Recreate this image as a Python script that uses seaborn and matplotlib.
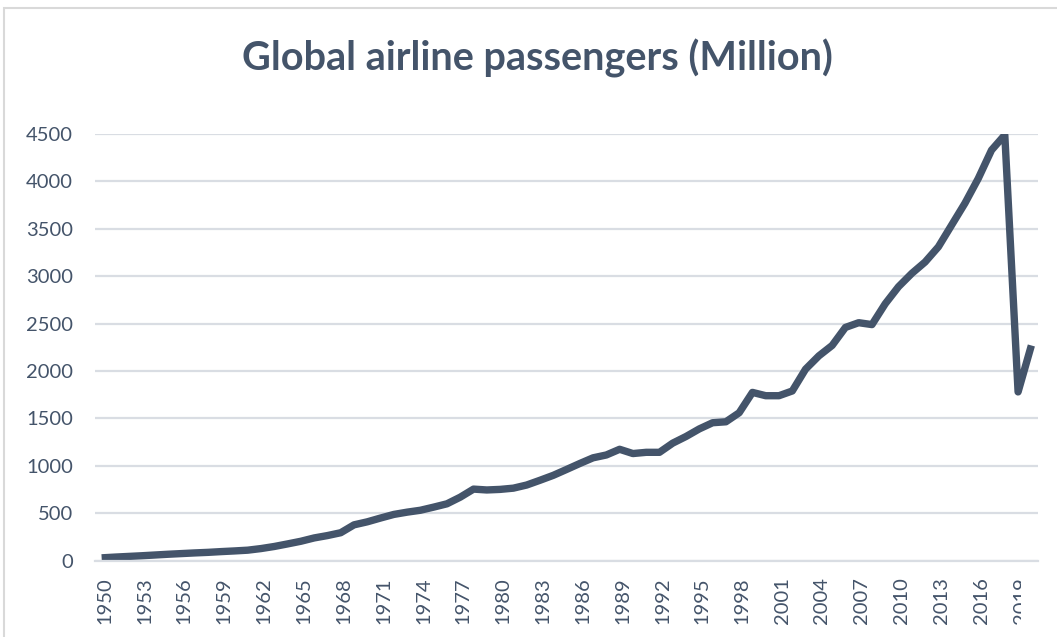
import matplotlib
matplotlib.use("Agg")
import matplotlib.pyplot as plt
from matplotlib.patches import FancyBboxPatch
from matplotlib.transforms import Bbox, ScaledTranslation
from matplotlib.ticker import FixedLocator
import numpy as np
import pandas as pd
import seaborn as sns

# Annual global airline passengers, millions
years = list(range(1950, 2021))
passengers = [
    30, 38, 45, 52, 60, 68, 75, 82, 88, 96,
    103, 111, 128, 150, 177, 205, 240, 265, 295, 378,
    410, 450, 488, 512, 532, 565, 600, 670, 755, 746,
    752, 765, 798, 848, 900, 962, 1025, 1085, 1115, 1175,
    1130, 1143, 1143, 1240, 1310, 1390, 1455, 1465, 1560, 1775,
    1740, 1740, 1790, 2020, 2160, 2270, 2460, 2510, 2490, 2710,
    2890, 3030, 3150, 3310, 3540, 3770, 4030, 4330, 4490, 1780,
    2270,
]
label_years = list(range(1950, 2021, 3))
y_ticks = list(range(0, 5000, 500))

title = "Global airline passengers (Million)"

TEXT = "#44546A"
LINE = "#44546A"
GRID = "#D9DDE3"

sns.set_style("white")
plt.rcParams["font.family"] = ["Lato", "DejaVu Sans"]

df = pd.DataFrame({"year": years, "passengers": passengers})

W, H = 1057, 637
fig = plt.figure(figsize=(W / 100, H / 100), dpi=100)
ax = fig.add_axes([95 / W, 1 - 560.7 / H, (1038 - 95) / W, (560.7 - 134) / H])

sns.lineplot(data=df, x="year", y="passengers", ax=ax, color=LINE,
             linewidth=5.3, solid_joinstyle="round", solid_capstyle="butt")

ax.set_xlim(years[0] - 0.5, years[-1] + 0.5)
ax.set_ylim(0, 4500)
ax.set_xlabel("")
ax.set_ylabel("")

# horizontal gridlines
ax.set_yticks(y_ticks)
ax.yaxis.grid(True, color=GRID, linewidth=1.6)
ax.xaxis.grid(False)
ax.set_axisbelow(True)

for side in ["top", "right", "left"]:
    ax.spines[side].set_visible(False)
ax.spines["bottom"].set_color(GRID)
ax.spines["bottom"].set_linewidth(1.6)

ax.tick_params(axis="y", length=0, pad=16, labelsize=14.5, labelcolor=TEXT)

# category labels every third year, tick marks between every year
ax.set_xticks(label_years)
ax.set_xticklabels([str(y) for y in label_years], rotation=90)
ax.xaxis.set_minor_locator(FixedLocator(np.arange(years[0] - 0.5, years[-1] + 1.0, 1.0)))
ax.tick_params(axis="x", which="major", length=0, pad=12, labelsize=14.5, labelcolor=TEXT)
ax.tick_params(axis="x", which="minor", length=5, width=1.6, color=GRID, direction="out")

# labels sit slightly right of their category; the last one runs past the label area
shift = ScaledTranslation(3 / 100, 0, fig.dpi_scale_trans)
clip = Bbox.from_extents(0, 0, 1021, H)
for lab in ax.get_xticklabels():
    lab.set_transform(lab.get_transform() + shift)
    lab.set_clip_on(True)
    lab.set_clip_box(clip)

fig.text(537 / W, 1 - 58 / H, title, ha="center", va="center",
         fontsize=28.5, fontweight="bold", color=TEXT)

# chart area frame
frame = FancyBboxPatch((4 / W, -0.05), 1.1, 1 - 8 / H + 0.05,
                       boxstyle="square,pad=0", transform=fig.transFigure,
                       facecolor="none", edgecolor="#D9D9D9", linewidth=1.5,
                       clip_on=False)
fig.patches.append(frame)

fig.savefig("out.png", dpi=100, facecolor="white")
